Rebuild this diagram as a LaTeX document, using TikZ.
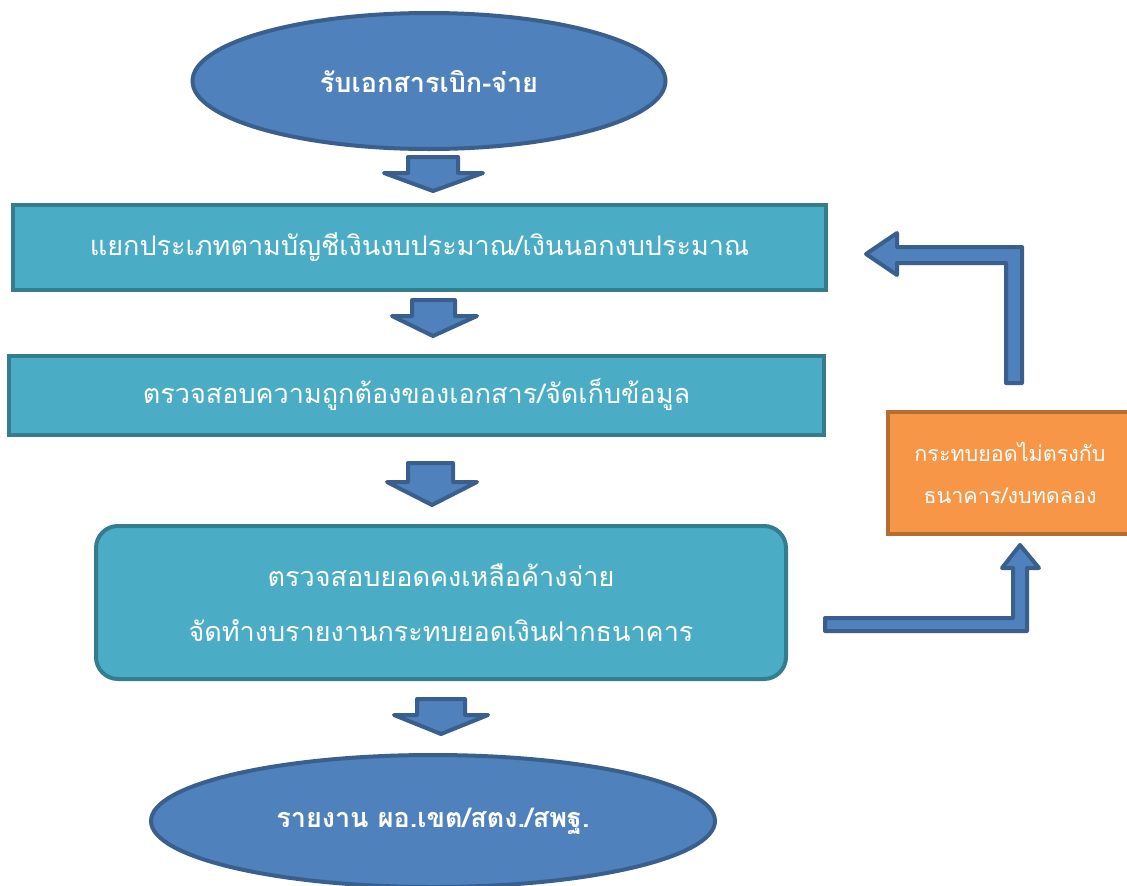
\documentclass[tikz,border=0pt]{standalone}
\usepackage{fontspec}
\newfontfamily\thai[Script=Thai]{Loma}
\usetikzlibrary{shapes.geometric}
\definecolor{ellfill}{HTML}{4F81BD}
\definecolor{elldraw}{HTML}{3A5F8C}
\definecolor{boxfill}{HTML}{4BACC6}
\definecolor{boxdraw}{HTML}{357D8E}
\definecolor{orfill}{HTML}{F79646}
\definecolor{ordraw}{HTML}{B66D31}
\tikzset{
  ellnode/.style={ellipse, fill=ellfill, draw=elldraw, line width=4pt, inner sep=0pt, text=white, font={\thai\bfseries\fontsize{27}{30}\selectfont}},
  boxnode/.style={rectangle, fill=boxfill, draw=boxdraw, line width=4pt, inner sep=0pt, text=white, align=center, font={\thai\fontsize{27}{55}\selectfont}},
  ornode/.style={rectangle, fill=orfill, draw=ordraw, line width=4pt, inner sep=0pt, text=white, align=center, font={\thai\fontsize{21.5}{42}\selectfont}},
  blockarrow/.style={fill=ellfill, draw=elldraw, line width=4pt, line join=round}
}
\begin{document}
\begin{tikzpicture}[x=1pt,y=-1pt]
\useasboundingbox (0,0) rectangle (1127,886);
\node[ellnode, minimum width=473pt, minimum height=136pt] (start) at (429,81) {รับเอกสารเบิก-จ่าย};
\node[boxnode, minimum width=813pt, minimum height=85pt] (sort) at (419.5,247.5) {แยกประเภทตามบัญชีเงินงบประมาณ/เงินนอกงบประมาณ};
\node[boxnode, minimum width=815pt, minimum height=79pt] (check) at (416.5,395) {ตรวจสอบความถูกต้องของเอกสาร/จัดเก็บข้อมูล};
\node[boxnode, rounded corners=22pt, minimum width=690pt, minimum height=153pt] (recon) at (441,602.5) {ตรวจสอบยอดคงเหลือค้างจ่าย\\จัดทำงบรายงานกระทบยอดเงินฝากธนาคาร};
\node[ornode, minimum width=244pt, minimum height=122pt] (mismatch) at (1010,472.5) {กระทบยอดไม่ตรงกับ\\ธนาคาร/งบทดลอง};
\node[ellnode, minimum width=564pt, minimum height=132pt] (report) at (433,821) {รายงาน ผอ.เขต/สตง./สพฐ.};
% down block arrows
\draw[blockarrow] (408,157) -- (458,157) -- (458,173) -- (483,173) -- (433,191) -- (384,173) -- (408,173) -- cycle;
\draw[blockarrow] (412,300) -- (455,300) -- (455,316) -- (477,316) -- (433,336) -- (392,316) -- (412,316) -- cycle;
\draw[blockarrow] (408,463) -- (453,463) -- (453,482) -- (477,482) -- (432,505) -- (387,482) -- (408,482) -- cycle;
\draw[blockarrow] (417,699) -- (465,699) -- (465,715) -- (488,715) -- (441,734) -- (394,715) -- (417,715) -- cycle;
% feedback arrows
\draw[blockarrow] (825,618) -- (1013,618) -- (1013,568) -- (1002,568) -- (1020,545) -- (1039,568) -- (1027,568) -- (1027,631) -- (825,631) -- cycle;
\draw[blockarrow] (1006,383) -- (1006,263) -- (897,263) -- (897,275) -- (866,254) -- (897,233) -- (897,247) -- (1022,247) -- (1022,383) -- cycle;
\end{tikzpicture}
\end{document}
